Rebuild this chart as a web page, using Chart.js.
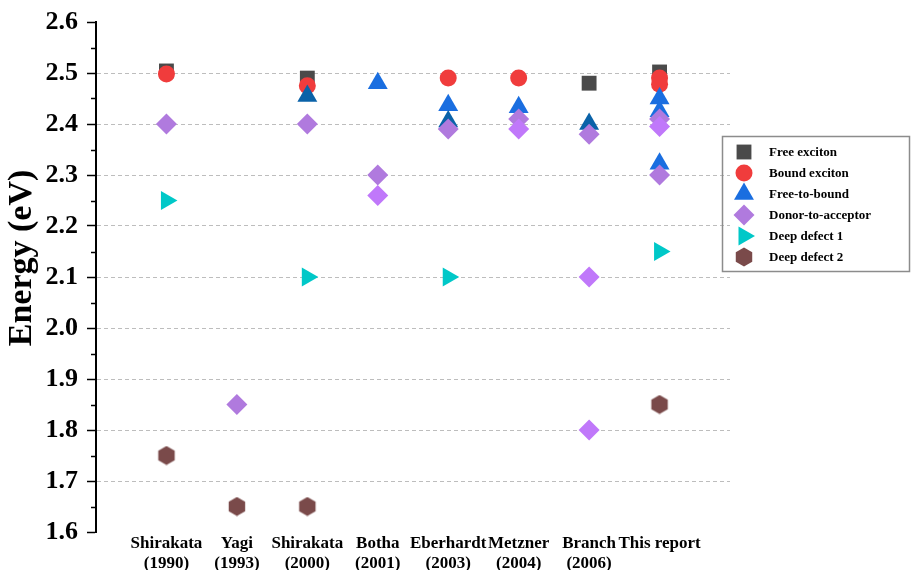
<!DOCTYPE html>
<html>
<head>
<meta charset="utf-8">
<title>Energy (eV) by study</title>
<script src="https://cdn.jsdelivr.net/npm/chart.js@4.4.1/dist/chart.umd.min.js"></script>
<style>
    body { margin: 0; background: #fff; }
    #wrap { width: 912px; height: 570px; }
</style>
</head>
<body>
<div id="wrap"><canvas id="energyChart" width="912" height="570"></canvas></div>
<script>
// studies along the x axis (position 1..8)
const studies = [
    ['Shirakata', '(1990)'],
    ['Yagi', '(1993)'],
    ['Shirakata', '(2000)'],
    ['Botha', '(2001)'],
    ['Eberhardt', '(2003)'],
    ['Metzner', '(2004)'],
    ['Branch', '(2006)'],
    ['This report']
];

// [study number, energy in eV]
const freeExciton = [[1, 2.504], [3, 2.49], [7, 2.48], [8, 2.502]];
const boundExciton = [[1, 2.498], [3, 2.475], [5, 2.49], [6, 2.49], [8, 2.49], [8, 2.478]];
const freeToBound = [[3, 2.455], [4, 2.48], [5, 2.437], [5, 2.405], [6, 2.433], [7, 2.40], [8, 2.45], [8, 2.425], [8, 2.322]];
const donorToAcceptor = [[1, 2.40], [2, 1.85], [3, 2.40], [4, 2.30], [4, 2.26], [5, 2.39], [6, 2.41], [6, 2.39],
                         [7, 2.38], [7, 2.10], [7, 1.80], [8, 2.41], [8, 2.395], [8, 2.30]];
const deepDefect1 = [[1, 2.25], [3, 2.10], [5, 2.10], [8, 2.15]];
const deepDefect2 = [[1, 1.75], [2, 1.65], [3, 1.65], [8, 1.85]];

const yTicks = [1.6, 1.7, 1.8, 1.9, 2.0, 2.1, 2.2, 2.3, 2.4, 2.5, 2.6];
const yMinorTicks = [1.65, 1.75, 1.85, 1.95, 2.05, 2.15, 2.25, 2.35, 2.45, 2.55];

// points drawn in a slightly different shade in the original
const darkTriangles = [0, 3, 5];
const lightDiamonds = [4, 7, 9, 10, 12];

const serif = 'Liberation Serif, Times New Roman, serif';

function toPoints(list) {
    return list.map(p => ({ x: p[0], y: p[1] }));
}

// hexagon marker for "Deep defect 2"
function makeHexagon(size, color) {
    const c = document.createElement('canvas');
    c.width = size;
    c.height = size;
    const g = c.getContext('2d');
    const r = size / 2;
    g.fillStyle = color;
    g.beginPath();
    for (let i = 0; i < 6; i++) {
        const a = Math.PI / 2 + i * Math.PI / 3;
        const px = r + Math.cos(a) * (r - 0.5);
        const py = r + Math.sin(a) * (r - 0.5);
        if (i === 0) g.moveTo(px, py); else g.lineTo(px, py);
    }
    g.closePath();
    g.fill();
    return c;
}
const hexagon = makeHexagon(20, '#7a4a4a');

const legendPanel = {
    id: 'legendPanel',
    afterDraw(chart) {
        const ctx = chart.ctx;
        ctx.save();
        ctx.strokeStyle = '#8c8c8c';
        ctx.lineWidth = 1.5;
        ctx.strokeRect(722.5, 136.5, 187, 135);
        const rows = [152, 173, 194, 215, 236, 257];
        chart.data.datasets.forEach((ds, i) => {
            const y = rows[i];
            ctx.fillStyle = ds.legendColor;
            ctx.strokeStyle = ds.legendColor;
            Chart.helpers.drawPoint(ctx, {
                pointStyle: ds.pointStyle,
                radius: ds.pointRadius,
                rotation: ds.rotation || 0,
                borderWidth: 0
            }, 744, y);
            ctx.fillStyle = '#000';
            ctx.font = 'bold 13px ' + serif;
            ctx.textBaseline = 'middle';
            ctx.textAlign = 'left';
            ctx.fillText(ds.label, 769, y + 1);
        });
        ctx.restore();
    }
};

// short ticks between the labelled ones, and the y title
const axisExtras = {
    id: 'axisExtras',
    afterDraw(chart) {
        const s = chart.scales.y;
        const ctx = chart.ctx;
        ctx.save();
        ctx.strokeStyle = '#000';
        ctx.lineWidth = 1.5;
        yMinorTicks.forEach(v => {
            const py = Math.round(s.getPixelForValue(v)) + 0.5;
            ctx.beginPath();
            ctx.moveTo(s.right - 5, py);
            ctx.lineTo(s.right, py);
            ctx.stroke();
        });
        ctx.translate(22, 258);
        ctx.rotate(-Math.PI / 2);
        ctx.fillStyle = '#000';
        ctx.font = 'bold 34px ' + serif;
        ctx.textAlign = 'center';
        ctx.textBaseline = 'middle';
        ctx.fillText('Energy (eV)', 0, 0);
        ctx.restore();
    }
};

const ctx = document.getElementById('energyChart').getContext('2d');
new Chart(ctx, {
    type: 'scatter',
    data: {
        datasets: [
            {
                label: 'Free exciton',
                data: toPoints(freeExciton),
                pointStyle: 'rect',
                pointRadius: 10.5,
                backgroundColor: '#4a4a4a',
                legendColor: '#4a4a4a',
                borderWidth: 0,
                order: 6
            },
            {
                label: 'Bound exciton',
                data: toPoints(boundExciton),
                pointStyle: 'circle',
                pointRadius: 8.5,
                backgroundColor: '#f03c3c',
                legendColor: '#f03c3c',
                borderWidth: 0,
                order: 5
            },
            {
                label: 'Free-to-bound',
                data: toPoints(freeToBound),
                pointStyle: 'triangle',
                pointRadius: 11.5,
                backgroundColor: c => darkTriangles.includes(c.dataIndex) ? '#0a62a8' : '#1a6ee0',
                legendColor: '#1a6ee0',
                borderWidth: 0,
                order: 4
            },
            {
                label: 'Donor-to-acceptor',
                data: toPoints(donorToAcceptor),
                pointStyle: 'rectRot',
                pointRadius: 10.5,
                backgroundColor: c => lightDiamonds.includes(c.dataIndex) ? '#c078fa' : '#b07ade',
                legendColor: '#b07ade',
                borderWidth: 0,
                order: 3
            },
            {
                label: 'Deep defect 1',
                data: toPoints(deepDefect1),
                pointStyle: 'triangle',
                rotation: 90,
                pointRadius: 11,
                backgroundColor: '#00c8c8',
                legendColor: '#00c8c8',
                borderWidth: 0,
                order: 2
            },
            {
                label: 'Deep defect 2',
                data: toPoints(deepDefect2),
                pointStyle: hexagon,
                pointRadius: 10,
                backgroundColor: '#7a4a4a',
                legendColor: '#7a4a4a',
                borderWidth: 0,
                order: 1
            }
        ]
    },
    options: {
        responsive: false,
        animation: false,
        layout: { padding: { top: 22, right: 182, bottom: 0, left: 0 } },
        plugins: {
            legend: { display: false },
            tooltip: { enabled: false }
        },
        scales: {
            x: {
                type: 'linear',
                min: 0,
                max: 9,
                afterBuildTicks: s => { s.ticks = studies.map((st, i) => ({ value: i + 1 })); },
                afterFit: s => { s.height = 38; },
                grid: { display: false, drawTicks: false },
                border: { display: false },
                ticks: {
                    autoSkip: false,
                    maxRotation: 0,
                    padding: 1,
                    color: '#000',
                    font: { family: serif, size: 17, weight: 'bold', lineHeight: 1.2 },
                    callback: v => studies[v - 1]
                }
            },
            y: {
                min: 1.6,
                max: 2.6,
                afterBuildTicks: s => { s.ticks = yTicks.map(v => ({ value: v })); },
                afterFit: s => { s.width = 96; },
                border: { display: true, color: '#000', width: 2, dash: [4, 3] },
                grid: {
                    color: c => (c.tick && (c.tick.value <= 1.6 || c.tick.value >= 2.6)) ? 'rgba(0,0,0,0)' : '#bdbdbd',
                    lineWidth: 1,
                    tickColor: '#000',
                    tickWidth: 1.5,
                    tickLength: 9
                },
                ticks: {
                    padding: 9,
                    color: '#000',
                    font: { family: serif, size: 26, weight: 'bold', lineHeight: 1 },
                    callback: v => v.toFixed(1)
                }
            }
        }
    },
    plugins: [axisExtras, legendPanel]
});
</script>
</body>
</html>
